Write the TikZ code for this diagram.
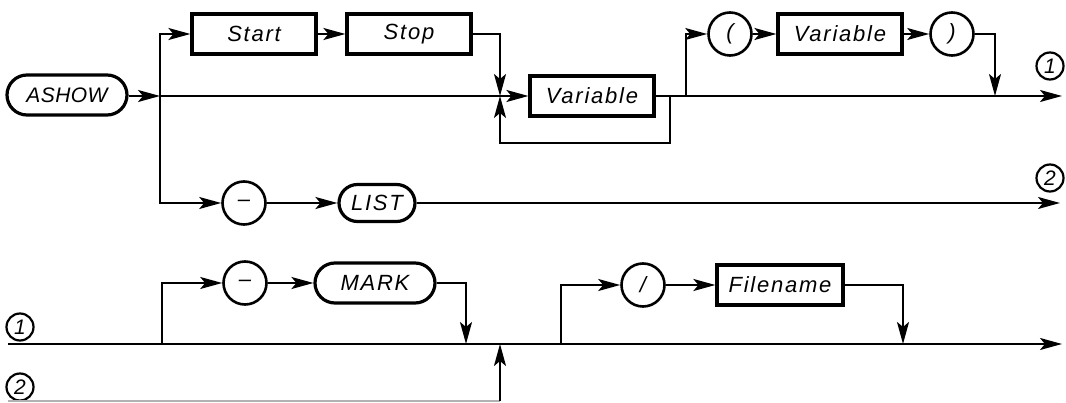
\documentclass[tikz,border=0pt]{standalone}
\usepackage{fontspec}
\newfontfamily\dfont{Liberation Sans}[LetterSpace=8]
\newfontfamily\afont{Liberation Sans}[LetterSpace=2]
\usetikzlibrary{shapes.misc,arrows.meta}
\begin{document}
\begin{tikzpicture}[x=1pt,y=-1pt,
  every node/.style={font=\dfont\itshape\fontsize{22}{26}\selectfont, inner sep=0pt},
  conn/.style={line width=2pt},
  arr/.style={conn,-{Stealth[length=22pt,width=12pt,inset=5pt]}},
  nterm/.style={draw, rectangle, line width=3.2pt, minimum height=40pt},
  term/.style={draw, rounded rectangle, line width=3.2pt, minimum height=40pt},
  sym/.style={draw, circle, line width=2.6pt, minimum size=43pt},
  lbl/.style={draw, circle, line width=2.2pt, minimum size=27pt, font=\dfont\itshape\fontsize{21}{24}\selectfont}]
\useasboundingbox (0,0) rectangle (1066,403);
% ---------- upper diagram ----------
\node[term, minimum width=120pt, font=\afont\itshape\fontsize{21}{26}\selectfont] (ashow) at (67,95) {ASHOW};
\coordinate (j1) at (160,96);
\node[nterm, minimum width=124pt] (start) at (254,34) {Start};
\node[nterm, minimum width=124pt] (stop) at (409,34) {Stop};
\node[nterm, minimum width=124pt] (var1) at (592,96) {Variable};
\coordinate (jv) at (500,96);
\coordinate (lp) at (670,96);
\coordinate (lpb) at (670,143);
\node[sym] (po) at (730,34) {(};
\node[nterm, minimum width=124pt] (var2) at (840,34) {Variable};
\node[sym] (pc) at (952,34) {)};
\coordinate (j2) at (686,96);
\coordinate (jd) at (995,96);
\coordinate (end1) at (1062,96);
\node[lbl] (l1a) at (1050,66) {1};
\node[lbl] (l2a) at (1050,178) {2};
\node[sym] (m1) at (244,203) {–};
\node[term, minimum width=76pt, minimum height=37pt] (list) at (377,203) {LIST};
\coordinate (end2) at (1060,203);

\draw[arr] (ashow.east |- j1) -- (j1);
\draw[arr] (j1) -- (var1.west);
\draw[arr] (j1) |- (start.west);
\draw[arr] (j1) |- (m1.west);
\draw[arr] (start) -- (stop);
\draw[arr] (stop.east) -| (jv);
\draw[arr] (lp) -- (lpb) -| (jv);
\draw[arr] (var1.east) -- (end1);
\draw[arr] (j2) |- (po.west);
\draw[arr] (po) -- (var2);
\draw[arr] (var2) -- (pc);
\draw[arr] (pc.east) -| (jd);
\draw[arr] (m1) -- (list);
\draw[arr] (list.east) -- (end2);

% ---------- lower diagram ----------
\node[lbl] (l1b) at (20,327) {1};
\node[lbl] (l2b) at (20,387) {2};
\coordinate (s1) at (8,344);
\coordinate (e3) at (1062,344);
\coordinate (s2) at (8,401);
\coordinate (s2c) at (500,401);
\coordinate (jm) at (500,344);
\coordinate (jb1) at (162,344);
\node[sym] (m2) at (245,283) {–};
\node[term, minimum width=120pt] (mark) at (375,283) {MARK};
\coordinate (jm2) at (466,344);
\coordinate (jb2) at (561,344);
\node[sym] (sl) at (643,285) {/};
\node[nterm, minimum width=126pt] (fn) at (780,285) {Filename};
\coordinate (jf) at (903,344);

\draw[arr] (s1) -- (e3);
\draw[conn, black!30] (s2) -- (s2c);
\draw[arr] (s2c) -- (jm);
\draw[arr] (jb1) |- (m2.west);
\draw[arr] (m2) -- (mark);
\draw[arr] (mark.east) -| (jm2);
\draw[arr] (jb2) |- (sl.west);
\draw[arr] (sl) -- (fn);
\draw[arr] (fn.east) -| (jf);
\end{tikzpicture}
\end{document}
